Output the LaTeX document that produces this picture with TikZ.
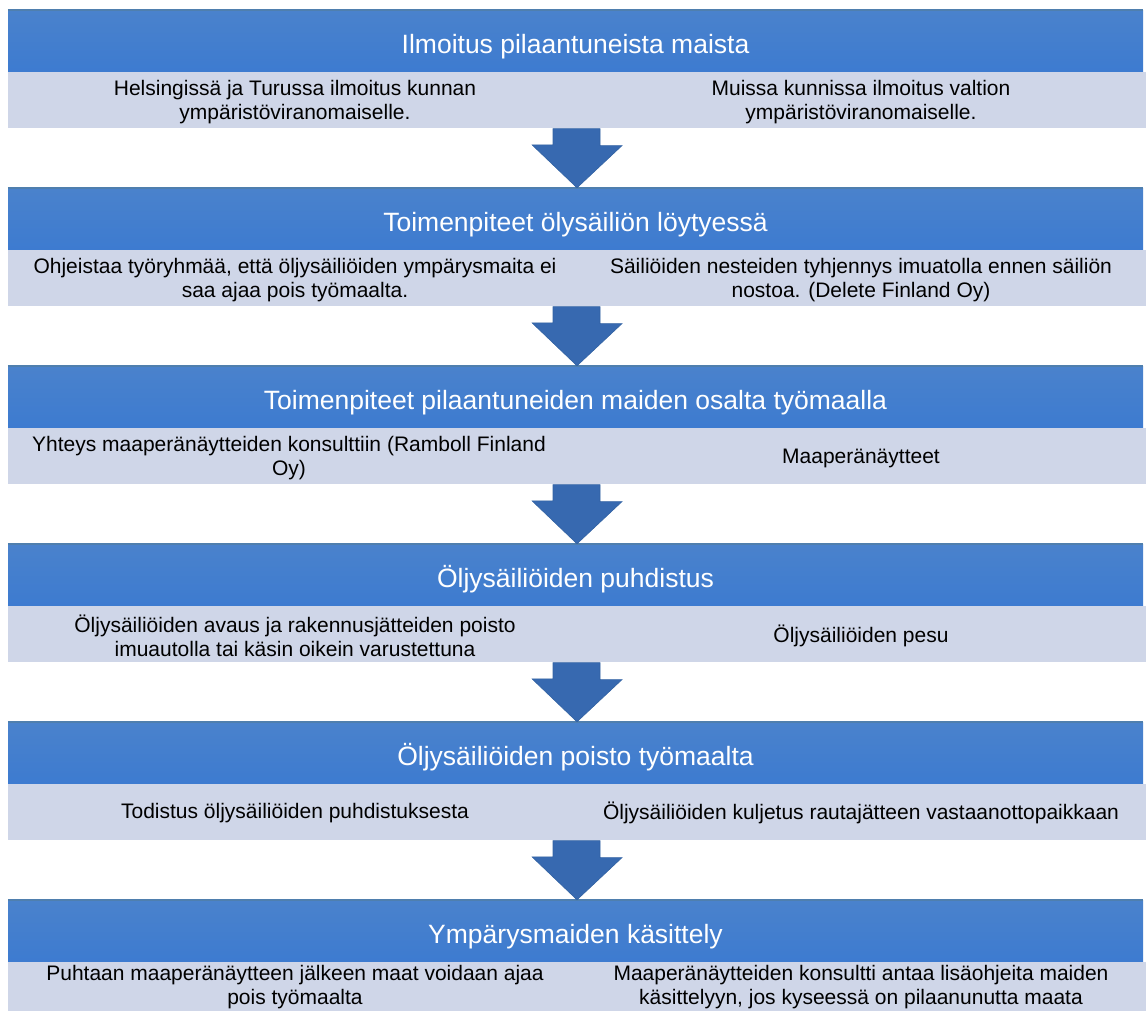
\documentclass[tikz,border=0pt]{standalone}
\usepackage{fontspec}
\setmainfont{Liberation Sans}
\usetikzlibrary{positioning}
\definecolor{headtop}{HTML}{4A82CC}
\definecolor{headmid}{HTML}{4385DB}
\definecolor{headbot}{HTML}{3D7BD0}
\definecolor{headline}{HTML}{4F7FAE}
\definecolor{subgray}{HTML}{CFD6E8}
\definecolor{arrowdark}{HTML}{3769B0}
\definecolor{arrowlight}{HTML}{4C88D2}
\definecolor{arrowedge}{HTML}{3262A2}
\tikzset{
  header/.style={rectangle, minimum width=1135pt, minimum height=62pt,
    inner sep=0pt, top color=headtop, middle color=headmid,
    bottom color=headbot, text=white, text height=27pt, text depth=2pt,
    font=\fontsize{26.5}{30}\selectfont},
  subrow/.style={rectangle, fill=subgray, minimum width=1138pt,
    minimum height=56pt, inner sep=0pt, anchor=north west},
  subtext/.style={align=center, inner sep=0pt,
    font=\fontsize{21}{24}\selectfont},
  flowarrow/.style={left color=arrowdark, middle color=arrowlight,
    right color=arrowdark, draw=arrowedge, line width=0.6pt},
  topline/.style={headline, line width=2pt}
}
\begin{document}
\begin{tikzpicture}[x=1pt,y=-1pt]
    \useasboundingbox (0,0) rectangle (1146,1010);
    % Ilmoitus
    \node[header] (h1) at (575.5,41) {Ilmoitus pilaantuneista maista};
    \draw[topline] (h1.north west) -- (h1.north east);
    \node[subrow] (sub1) at (h1.south west) {};
    \node[subtext] (l1) at (295,102) {Helsingissä ja Turussa ilmoitus kunnan\\ympäristöviranomaiselle.};
    \node[subtext] (r1) at (861,102) {Muissa kunnissa ilmoitus valtion\\ympäristöviranomaiselle.};
    % ölysäiliö
    \node[header] (h2) at (575.5,219) {Toimenpiteet ölysäiliön löytyessä};
    \draw[topline] (h2.north west) -- (h2.north east);
    \node[subrow] (sub2) at (h2.south west) {};
    \node[subtext] (l2) at (295,280) {Ohjeistaa työryhmää, että öljysäiliöiden ympärysmaita ei\\saa ajaa pois työmaalta.};
    \node[subtext] (r2) at (861,280) {Säiliöiden nesteiden tyhjennys imuatolla ennen säiliön\\nostoa. (Delete Finland Oy)};
    % pilaantuneet maat
    \node[header] (h3) at (575.5,397) {Toimenpiteet pilaantuneiden maiden osalta työmaalla};
    \draw[topline] (h3.north west) -- (h3.north east);
    \node[subrow] (sub3) at (h3.south west) {};
    \node[subtext] (l3) at (289,458) {Yhteys maaperänäytteiden konsulttiin (Ramboll Finland\\Oy)};
    \node[subtext] (r3) at (861,458) {Maaperänäytteet};
    % puhdistus
    \node[header] (h4) at (575.5,575) {Öljysäiliöiden puhdistus};
    \draw[topline] (h4.north west) -- (h4.north east);
    \node[subrow] (sub4) at (h4.south west) {};
    \node[subtext] (l4) at (295,636) {Öljysäiliöiden avaus ja rakennusjätteiden poisto\\imuautolla tai käsin oikein varustettuna};
    \node[subtext] (r4) at (861,636) {Öljysäiliöiden pesu};
    % poisto
    \node[header] (h5) at (575.5,753) {Öljysäiliöiden poisto työmaalta};
    \draw[topline] (h5.north west) -- (h5.north east);
    \node[subrow] (sub5) at (h5.south west) {};
    \node[subtext] (l5) at (295,813) {Todistus öljysäiliöiden puhdistuksesta};
    \node[subtext] (r5) at (861,813) {Öljysäiliöiden kuljetus rautajätteen vastaanottopaikkaan};
    % ympärysmaat
    \node[header] (h6) at (575.5,931) {Ympärysmaiden käsittely};
    \draw[topline] (h6.north west) -- (h6.north east);
    \node[subrow] (sub6) at (h6.south west) {};
    \node[subtext] (l6) at (295,987) {Puhtaan maaperänäytteen jälkeen maat voidaan ajaa\\pois työmaalta};
    \node[subtext] (r6) at (861,987) {Maaperänäytteiden konsultti antaa lisäohjeita maiden\\käsittelyyn, jos kyseessä on pilaanunutta maata};
    % nuolet
    \draw[flowarrow] ([xshift=-24pt]sub1.south) -- ++(47,0) -- ++(0,17)
    -- ++(22,0) -- (sub1.south |- h2.north) -- ++(-45,-43) -- ++(21,0) -- cycle;
    \draw[flowarrow] ([xshift=-24pt]sub2.south) -- ++(47,0) -- ++(0,17)
    -- ++(22,0) -- (sub2.south |- h3.north) -- ++(-45,-43) -- ++(21,0) -- cycle;
    \draw[flowarrow] ([xshift=-24pt]sub3.south) -- ++(47,0) -- ++(0,17)
    -- ++(22,0) -- (sub3.south |- h4.north) -- ++(-45,-43) -- ++(21,0) -- cycle;
    \draw[flowarrow] ([xshift=-24pt]sub4.south) -- ++(47,0) -- ++(0,17)
    -- ++(22,0) -- (sub4.south |- h5.north) -- ++(-45,-43) -- ++(21,0) -- cycle;
    \draw[flowarrow] ([xshift=-24pt]sub5.south) -- ++(47,0) -- ++(0,17)
    -- ++(22,0) -- (sub5.south |- h6.north) -- ++(-45,-43) -- ++(21,0) -- cycle;
  \end{tikzpicture}
\end{document}
